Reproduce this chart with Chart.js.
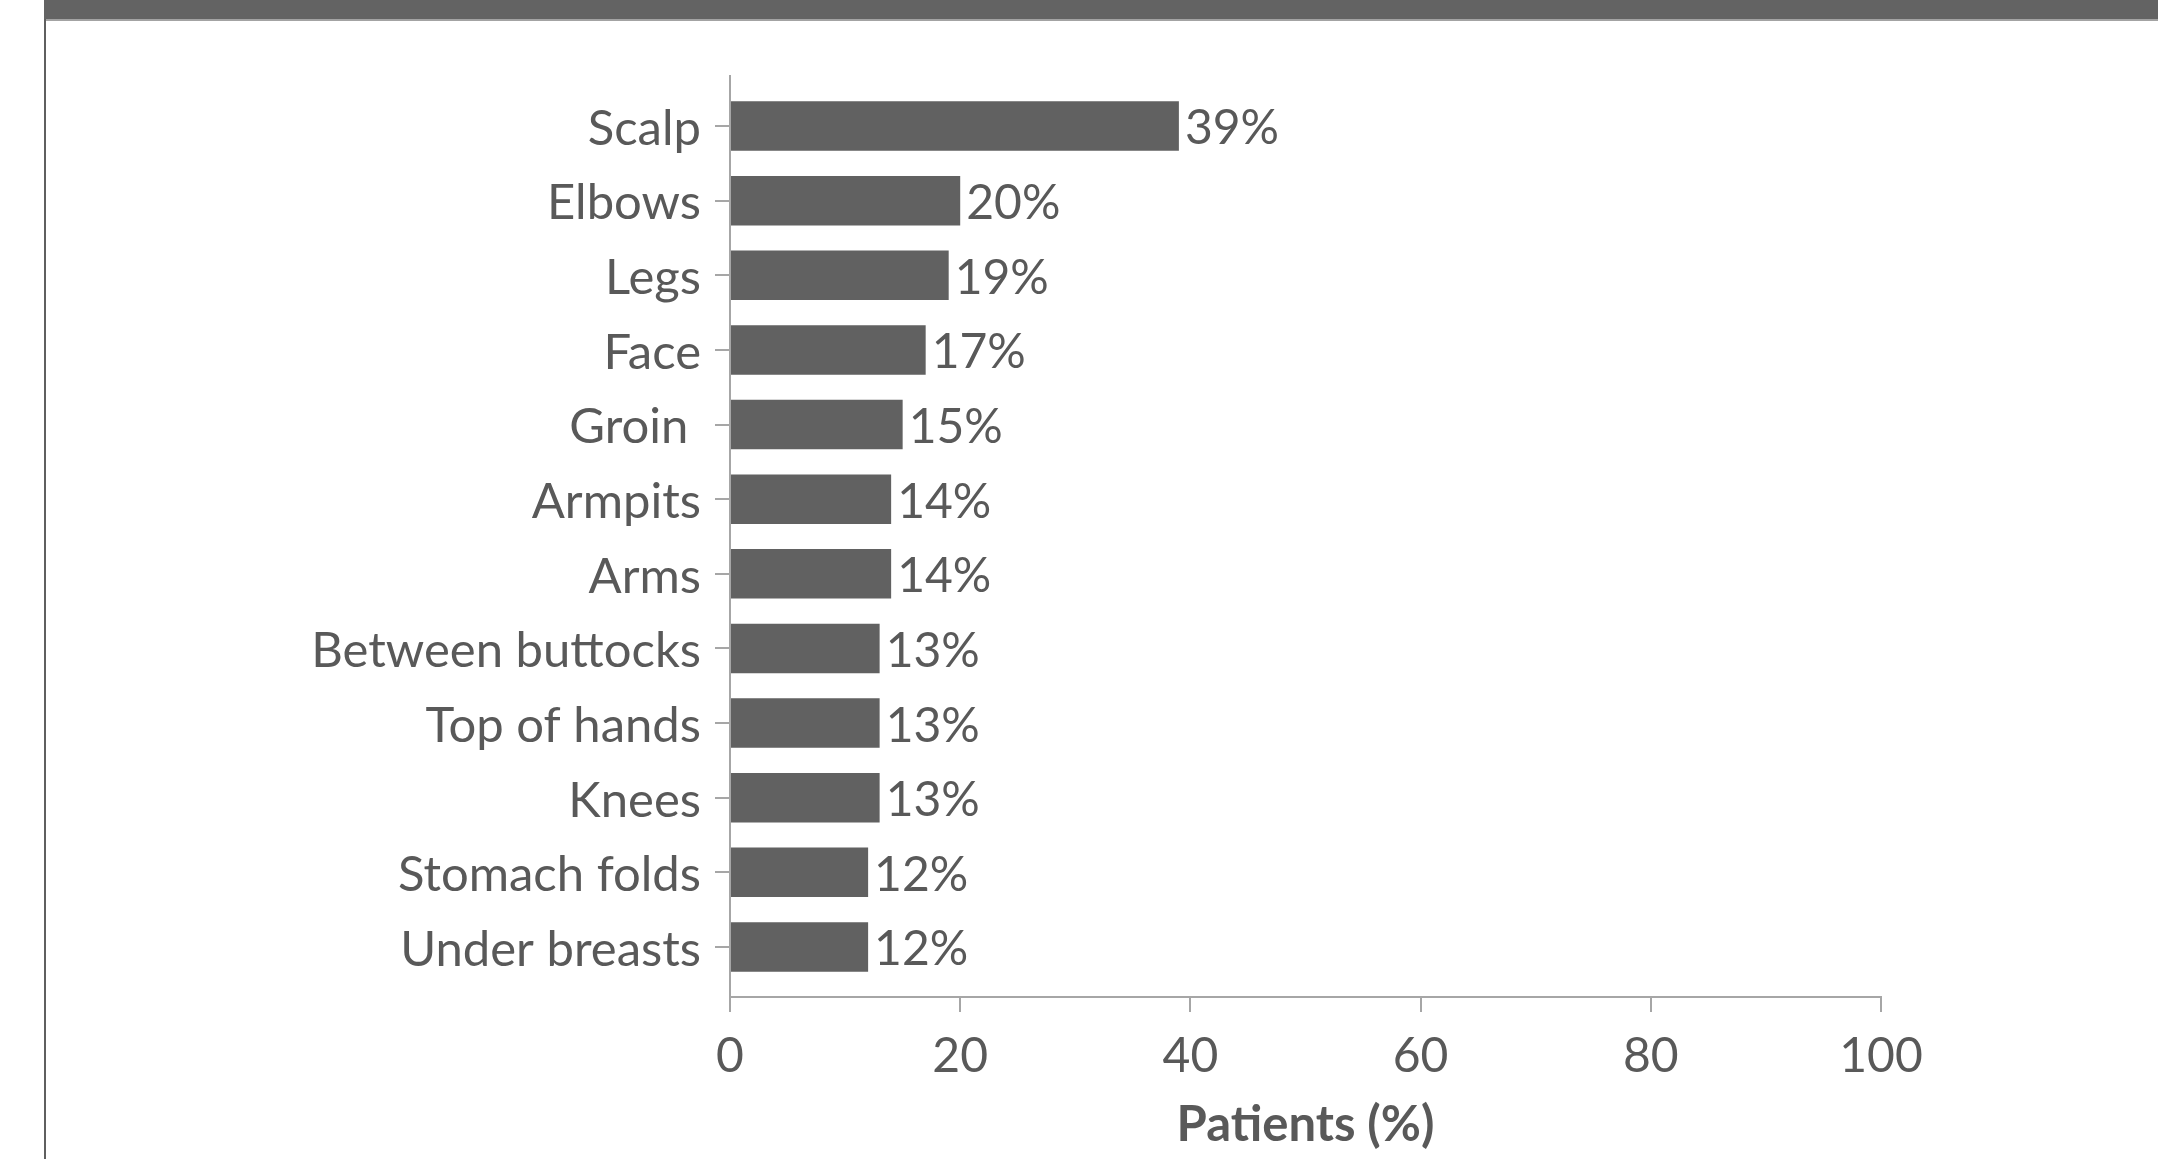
<!DOCTYPE html>
<html>
<head>
<meta charset="utf-8">
<script src="https://cdn.jsdelivr.net/npm/chart.js@4"></script>
<style>
  html, body { margin: 0; padding: 0; background: #ffffff; overflow: hidden; }
  #wrap { position: relative; width: 2158px; height: 1159px; background: #fff; }
  #banner { position: absolute; left: 44px; top: 0; width: 2114px; height: 19px; background: #636363; border-bottom: 2px solid #a3a3a3; }
  #leftline { position: absolute; left: 44px; top: 19px; width: 2px; height: 1140px; background: #5f5f5f; }
  canvas { position: absolute; left: 0; top: 0; }
</style>
</head>
<body>
<div id="wrap">
  <canvas id="c" width="2158" height="1159"></canvas>
  <div id="banner"></div>
  <div id="leftline"></div>
</div>
<script>
const categories = ["Scalp", "Elbows", "Legs", "Face", "Groin ", "Armpits", "Arms", "Between buttocks", "Top of hands", "Knees", "Stomach folds", "Under breasts"];
const values = [39, 20, 19, 17, 15, 14, 14, 13, 13, 13, 12, 12];
const xTicks = [0, 20, 40, 60, 80, 100];
const xTitle = "Patients (%)";

const FONT = "Lato, 'Noto Sans', sans-serif";
const TEXT = "#595959";
const AXIS = "#a6a6a6";
const BAR = "#616161";

const points = categories.map((c, i) => ({ x: values[i], y: i }));

const valueLabels = {
  id: 'valueLabels',
  afterDatasetsDraw(chart) {
    const ctx = chart.ctx;
    const meta = chart.getDatasetMeta(0);
    ctx.save();
    ctx.font = "48px " + FONT;
    ctx.fillStyle = TEXT;
    ctx.textAlign = 'left';
    ctx.textBaseline = 'middle';
    meta.data.forEach((el, i) => {
      ctx.fillText(values[i] + '%', el.x + 6, el.y + 3);
    });
    ctx.restore();
  }
};

new Chart(document.getElementById('c'), {
  type: 'bar',
  data: {
    datasets: [{
      data: points,
      backgroundColor: BAR,
      borderWidth: 0,
      barPercentage: 0.663,
      categoryPercentage: 1.0
    }]
  },
  options: {
    indexAxis: 'y',
    responsive: false,
    animation: false,
    devicePixelRatio: 1,
    layout: { padding: { left: 0, right: 277, top: 76, bottom: 0 } },
    plugins: { legend: { display: false }, tooltip: { enabled: false } },
    scales: {
      y: {
        type: 'linear',
        reverse: true,
        offset: false,
        min: -0.67,
        max: 11.67,
        afterBuildTicks(scale) {
          scale.ticks = categories.map((c, i) => ({ value: i }));
        },
        afterFit(scale) { scale.width = 730; },
        ticks: {
          callback: (v) => categories[v],
          font: { family: FONT, size: 49 },
          color: TEXT,
          padding: 14,
          labelOffset: 3,
          autoSkip: false
        },
        grid: { display: true, offset: false, drawOnChartArea: false, drawTicks: true, tickLength: 15, color: AXIS, lineWidth: 2 },
        border: { display: true, color: AXIS, width: 2 }
      },
      x: {
        type: 'linear',
        min: 0,
        max: 100,
        afterBuildTicks(scale) {
          scale.ticks = xTicks.map(v => ({ value: v }));
        },
        afterFit(scale) { scale.height = 1159 - 997; },
        ticks: {
          font: { family: FONT, size: 48 },
          color: TEXT,
          padding: 16,
          maxRotation: 0
        },
        title: {
          display: true,
          text: xTitle,
          font: { family: FONT, size: 49, weight: 'bold' },
          color: TEXT,
          padding: { top: 0, bottom: 4 }
        },
        grid: { display: true, drawOnChartArea: false, drawTicks: true, tickLength: 15, color: AXIS, lineWidth: 2 },
        border: { display: true, color: AXIS, width: 2 }
      }
    }
  },
  plugins: [valueLabels]
});
</script>
</body>
</html>
